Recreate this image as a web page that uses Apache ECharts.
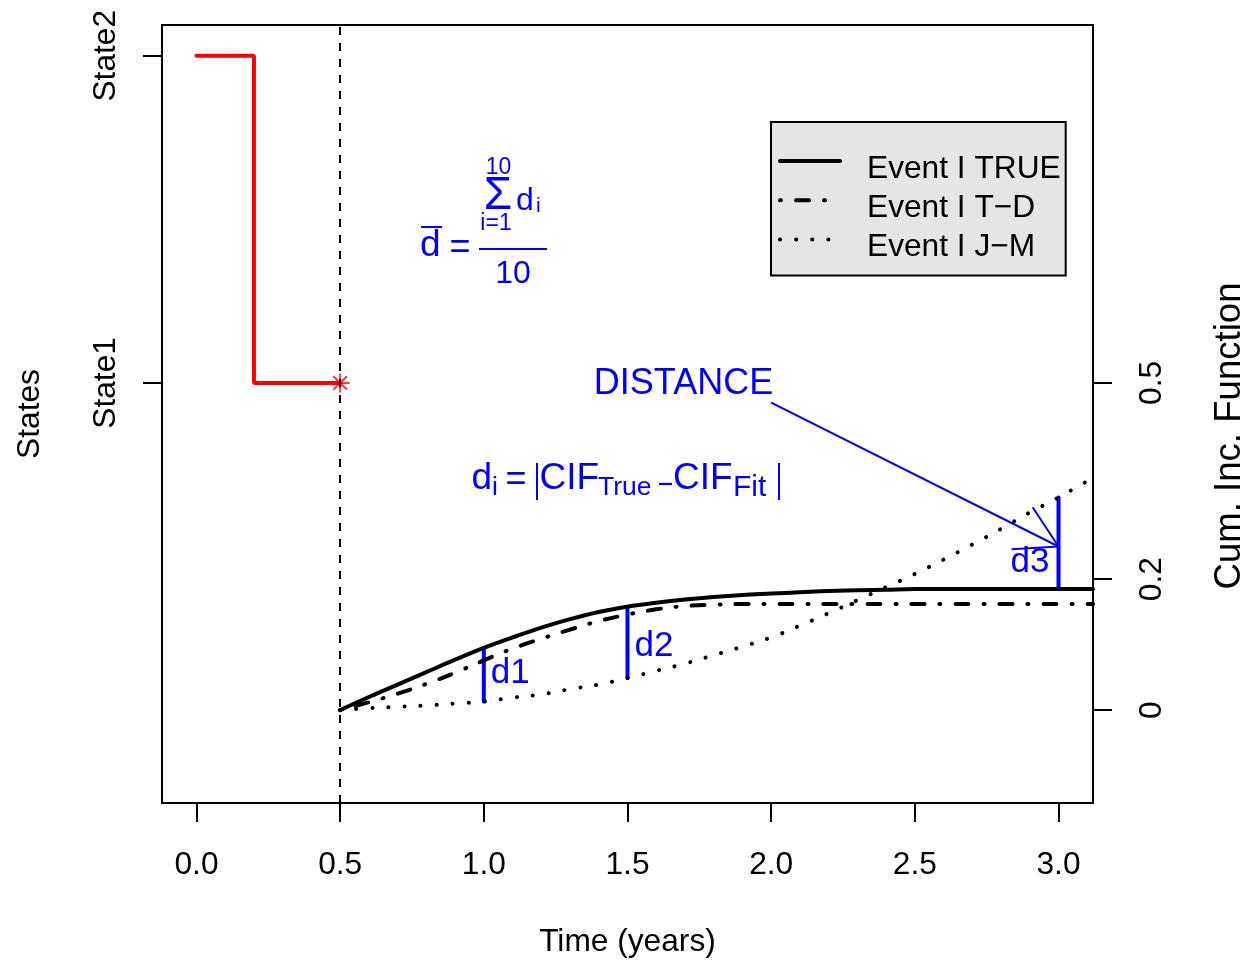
<!DOCTYPE html>
<html>
<head>
<meta charset="utf-8">
<script src="https://cdn.jsdelivr.net/npm/echarts@6/dist/echarts.min.js"></script>
<style>
  html, body { margin: 0; padding: 0; background: #fff; }
  #chart { width: 1254px; height: 963px; }
</style>
</head>
<body>
<div id="chart"></div>
<script>
// axis ticks and labels
const xTicks = [0, 0.5, 1, 1.5, 2, 2.5, 3];
const stateNames = ['State1', 'State2'];
const stateLevels = [0.5, 1];
const cifTicks = [0, 0.2, 0.5];

// multi-state path of the subject (State2 -> State1, censored at 0.5)
const pathTimes = [0, 0.2, 0.5];
const pathStates = [1, 0.5, 0.5];
const eventTime = 0.5;

// cumulative incidence curves
const cifTimes = [0.5, 0.6, 0.7, 0.8, 0.9, 1.0, 1.1, 1.2, 1.3, 1.4, 1.5, 1.6, 1.7, 1.8,
  1.9, 2.0, 2.1, 2.2, 2.3, 2.4, 2.5, 2.6, 2.7, 2.8, 2.9, 3.0, 3.12];
const cifTrue = [0, 0.020, 0.039, 0.058, 0.077, 0.095, 0.111, 0.126, 0.139, 0.150, 0.158, 0.164,
  0.169, 0.173, 0.176, 0.178, 0.180, 0.182, 0.183, 0.184, 0.185, 0.185, 0.185, 0.185, 0.185, 0.185, 0.185];
const cifTD = [0, 0.012, 0.025, 0.040, 0.057, 0.076, 0.094, 0.109, 0.123, 0.136, 0.146, 0.154,
  0.159, 0.161, 0.162, 0.162, 0.162, 0.162, 0.162, 0.162, 0.162, 0.162, 0.162, 0.162, 0.162, 0.162, 0.162];
const cifJM = [0, 0.003, 0.005, 0.007, 0.010, 0.013, 0.019, 0.024, 0.032, 0.039, 0.049, 0.060,
  0.071, 0.084, 0.097, 0.111, 0.129, 0.148, 0.168, 0.188, 0.208, 0.230, 0.253, 0.277, 0.302, 0.325, 0.355];

const seriesNames = ['Event I TRUE', 'Event I T\u2212D', 'Event I J\u2212M'];

// distances shown
const distTimes = [1.0, 1.5, 3.0];
const distNames = ['d1', 'd2', 'd3'];
const arrowFrom = [2.0, 0.47];
const arrowTo = [3.0, 0.25];

const FONT = "'Liberation Sans', Arial, Helvetica, sans-serif";
const BLUE = '#0000FF';
const BASE = 31.7;

function idxOf(t) {
  let best = 0;
  cifTimes.forEach((v, i) => { if (Math.abs(v - t) < Math.abs(cifTimes[best] - t)) best = i; });
  return best;
}
const distData = distTimes.map(t => [t, cifJM[idxOf(t)], cifTrue[idxOf(t)]]);
const distLabel = [
  { dx: 7, dy: -1, align: 'left' },
  { dx: 7, dy: 4, align: 'left' },
  { dx: -9, dy: 19, align: 'right' }
];

function txt(text, x, y, fs, align) {
  return {
    type: 'text', silent: true,
    style: {
      text: text, x: x, y: y, fill: BLUE,
      fontSize: fs, fontFamily: FONT,
      align: align || 'left', textAlign: align || 'left',
      verticalAlign: 'middle', textVerticalAlign: 'middle'
    }
  };
}
function bar(x1, y1, x2, y2, w) {
  return { type: 'line', silent: true, shape: { x1, y1, x2, y2 }, style: { stroke: BLUE, lineWidth: w || 2 } };
}

const chart = echarts.init(document.getElementById('chart'));

const axisText = { fontSize: BASE, fontFamily: FONT, color: '#000' };
const tickStyle = { show: true, length: 19, lineStyle: { color: '#000', width: 2 } };

const option = {
  animation: false,
  backgroundColor: '#fff',
  grid: {
    left: 162, right: 161, top: 25, bottom: 160,
    show: true, borderColor: '#000', borderWidth: 2, backgroundColor: 'transparent',
    outerBoundsMode: 'none'
  },
  legend: {
    orient: 'vertical', left: 771, top: 122,
    data: seriesNames,
    selectedMode: false,
    backgroundColor: '#E5E5E5', borderColor: '#000', borderWidth: 2, borderRadius: 0,
    padding: [31, 5, 12, 7],
    itemWidth: 60, itemHeight: 14, itemGap: 7.3,
    lineStyle: { width: 4 },
    itemStyle: { opacity: 0, borderWidth: 0 },
    formatter: name => '{t|' + name + '}',
    textStyle: {
      fontSize: BASE, fontFamily: FONT, color: '#000',
      rich: { t: { fontSize: BASE, fontFamily: FONT, color: '#000', padding: [16, 0, 0, 22] } }
    }
  },
  xAxis: {
    type: 'value', min: -0.12, max: 3.12,
    axisLine: { show: false, onZero: false },
    axisTick: Object.assign({ customValues: xTicks }, tickStyle),
    axisLabel: Object.assign({ customValues: xTicks, margin: 46, formatter: v => v.toFixed(1) }, axisText),
    splitLine: { show: false },
    name: 'Time (years)', nameLocation: 'middle', nameGap: 123,
    nameTextStyle: axisText
  },
  yAxis: [
    {
      type: 'value', position: 'left', min: -0.142, max: 1.047,
      axisLine: { show: false, onZero: false },
      axisTick: Object.assign({ customValues: stateLevels }, tickStyle),
      axisLabel: Object.assign({
        customValues: stateLevels, rotate: 90, margin: 40,
        formatter: v => stateNames[stateLevels.indexOf(v)]
      }, axisText),
      splitLine: { show: false },
      name: 'States', nameLocation: 'middle', nameGap: 116,
      nameTextStyle: axisText
    },
    {
      type: 'value', position: 'right', min: -0.142, max: 1.047,
      axisLine: { show: false, onZero: false },
      axisTick: Object.assign({ customValues: cifTicks }, tickStyle),
      axisLabel: Object.assign({ customValues: cifTicks, rotate: 90, margin: 43, formatter: v => String(v) }, axisText),
      splitLine: { show: false }
    }
  ],
  graphic: [
    // d-bar = sum(d_i, i=1..10) / 10
    txt('d', 420, 245.5, 37),
    bar(421, 227, 442, 227),
    txt('=', 460, 248, 36, 'center'),
    bar(479, 249, 547, 249),
    txt('10', 513, 274, 32, 'center'),
    txt('\u03A3', 498, 196, 46, 'center'),
    txt('10', 498.5, 168, 23, 'center'),
    txt('i=1', 496, 224, 23, 'center'),
    txt('d', 516, 201, 32),
    txt('i', 536, 206, 21),
    // d_i = |CIF_True - CIF_Fit|
    txt('d', 471.5, 479, 37),
    txt('i', 492, 487.8, 26.5),
    txt('=', 516, 480, 36, 'center'),
    bar(537, 463, 537, 500),
    txt('CIF', 539.5, 479, 37),
    txt('True', 598, 487.8, 26.5),
    bar(659, 484, 672, 484, 2.2),
    txt('CIF', 673, 479, 37),
    txt('Fit', 733, 487.8, 30),
    bar(779, 463, 779, 500),
    {
      type: 'text', x: 1230, y: 436, rotation: Math.PI / 2, silent: true,
      style: {
        text: 'Cum. Inc. Function', x: 0, y: 0, fill: '#000',
        fontSize: 36.6, fontFamily: FONT,
        align: 'center', textAlign: 'center', verticalAlign: 'middle', textVerticalAlign: 'middle'
      }
    }
  ],
  series: [
    {
      name: 'path', type: 'line', step: 'end', symbol: 'none',
      data: pathTimes.map((t, i) => [t, pathStates[i]]),
      lineStyle: { color: '#FF0000', width: 4, cap: 'round' },
      markLine: {
        silent: true, symbol: ['none', 'none'], label: { show: false },
        lineStyle: { color: '#000', width: 2, type: [8, 8] },
        data: [{ xAxis: eventTime }]
      }
    },
    {
      name: 'event', type: 'scatter', silent: true,
      symbol: 'path://M1,0L1,2M0,1L2,1M0.29,0.29L1.71,1.71M0.29,1.71L1.71,0.29',
      symbolSize: 19,
      itemStyle: { color: 'transparent', borderColor: '#FF0000', borderWidth: 2 },
      data: [[pathTimes[pathTimes.length - 1], pathStates[pathStates.length - 1]]]
    },
    {
      name: seriesNames[0], type: 'line', symbol: 'none', smooth: 0.4,
      data: cifTimes.map((t, i) => [t, cifTrue[i]]),
      itemStyle: { color: '#000' },
      lineStyle: { color: '#000', width: 4, cap: 'round' }
    },
    {
      name: seriesNames[1], type: 'line', symbol: 'none', smooth: 0.4,
      data: cifTimes.map((t, i) => [t, cifTD[i]]),
      itemStyle: { color: '#000' },
      lineStyle: { color: '#000', width: 4, cap: 'round', type: [1, 15, 13, 15] }
    },
    {
      name: seriesNames[2], type: 'line', symbol: 'none', smooth: 0.4,
      data: cifTimes.map((t, i) => [t, cifJM[i]]),
      itemStyle: { color: '#000' },
      lineStyle: { color: '#000', width: 4, cap: 'round', type: [0.1, 16] }
    },
    {
      name: 'distances', type: 'custom', silent: true,
      encode: { x: 0, y: [1, 2] },
      data: distData,
      renderItem: function (params, api) {
        const lo = api.coord([api.value(0), api.value(1)]);
        const hi = api.coord([api.value(0), api.value(2)]);
        const lp = distLabel[params.dataIndex];
        return {
          type: 'group',
          children: [
            { type: 'line', shape: { x1: lo[0], y1: lo[1], x2: hi[0], y2: hi[1] },
              style: { stroke: BLUE, lineWidth: 4, lineCap: 'round' } },
            { type: 'text', style: {
                text: distNames[params.dataIndex],
                x: lo[0] + lp.dx, y: (lo[1] + hi[1]) / 2 + lp.dy,
                fill: BLUE, fontSize: 35, fontFamily: FONT,
                align: lp.align, textAlign: lp.align, verticalAlign: 'middle', textVerticalAlign: 'middle'
              } }
          ]
        };
      }
    },
    {
      name: 'arrow', type: 'custom', silent: true,
      encode: { x: [0, 2], y: [1, 3] },
      data: [[arrowFrom[0], arrowFrom[1], arrowTo[0], arrowTo[1]]],
      renderItem: function (params, api) {
        const a = api.coord([api.value(0), api.value(1)]);
        const b = api.coord([api.value(2), api.value(3)]);
        const ang = Math.atan2(b[1] - a[1], b[0] - a[0]);
        const len = 47, spread = Math.PI / 6;
        const h1 = [b[0] - len * Math.cos(ang - spread), b[1] - len * Math.sin(ang - spread)];
        const h2 = [b[0] - len * Math.cos(ang + spread), b[1] - len * Math.sin(ang + spread)];
        const st = { stroke: BLUE, lineWidth: 2 };
        return {
          type: 'group',
          children: [
            { type: 'line', shape: { x1: a[0], y1: a[1], x2: b[0], y2: b[1] }, style: st },
            { type: 'line', shape: { x1: b[0], y1: b[1], x2: h1[0], y2: h1[1] }, style: st },
            { type: 'line', shape: { x1: b[0], y1: b[1], x2: h2[0], y2: h2[1] }, style: st },
            { type: 'text', style: {
                text: 'DISTANCE', x: a[0] + 2, y: a[1] - 18,
                fill: BLUE, fontSize: 36, fontFamily: FONT,
                align: 'right', textAlign: 'right', verticalAlign: 'middle', textVerticalAlign: 'middle'
              } }
          ]
        };
      }
    }
  ]
};

chart.setOption(option);
</script>
</body>
</html>
